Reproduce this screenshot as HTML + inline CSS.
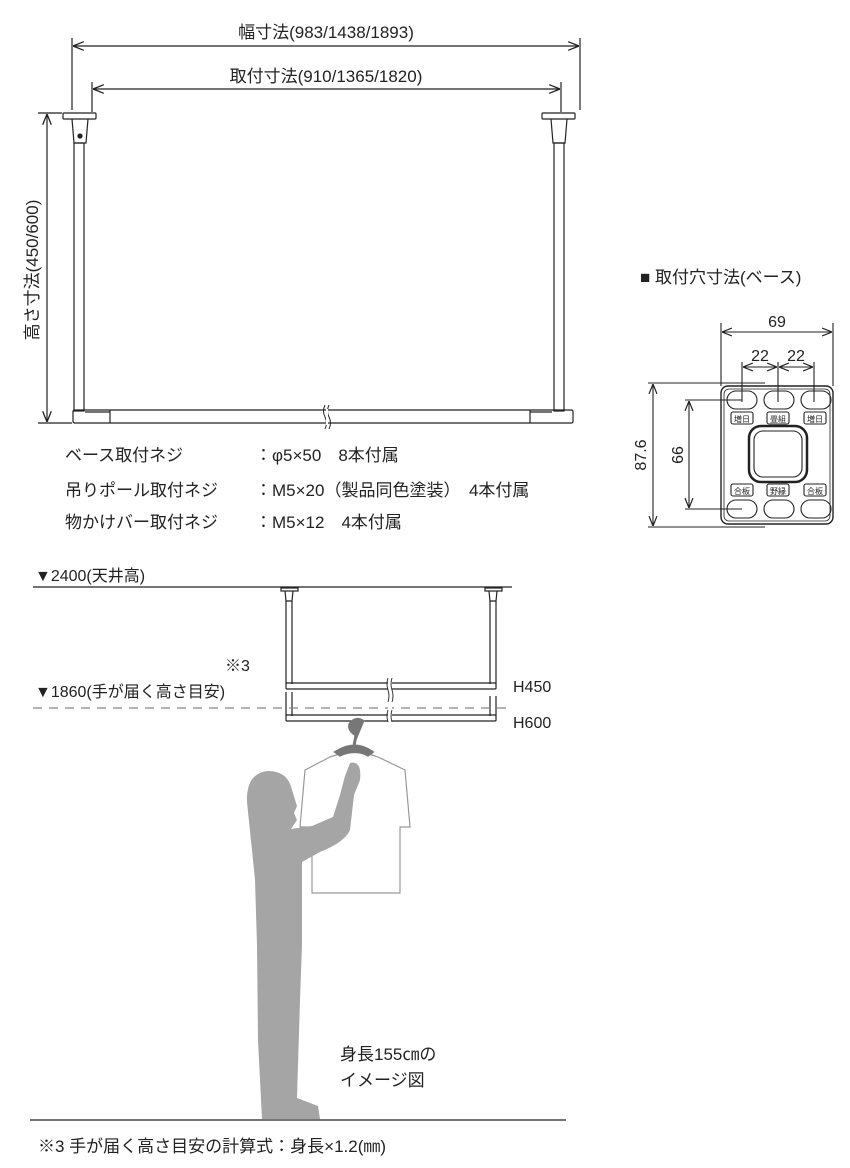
<!DOCTYPE html>
<html><head><meta charset="utf-8"><style>
html,body{margin:0;padding:0;background:#fff}
svg{display:block}
text{font-family:"Liberation Sans","Noto Sans CJK JP",sans-serif;fill:#222}
</style></head><body>
<svg width="850" height="1168" viewBox="0 0 850 1168" xmlns="http://www.w3.org/2000/svg">
<defs>
<marker id="a" viewBox="0 0 10 10" refX="10" refY="5" markerWidth="9" markerHeight="9" orient="auto-start-reverse"><path d="M0,1 L10,5 L0,9" fill="none" stroke="#222" stroke-width="1.2"/></marker>
</defs>
<g stroke="#222" stroke-width="1.2" fill="none">
<line x1="72" y1="38" x2="72" y2="110"/><line x1="580" y1="38" x2="580" y2="110"/>
<line x1="73" y1="46" x2="579" y2="46" marker-start="url(#a)" marker-end="url(#a)"/>
<line x1="92" y1="82" x2="92" y2="112"/><line x1="561" y1="82" x2="561" y2="112"/>
<line x1="93" y1="89" x2="560" y2="89" marker-start="url(#a)" marker-end="url(#a)"/>
<line x1="38" y1="113" x2="62" y2="113"/><line x1="38" y1="423" x2="72" y2="423"/>
<line x1="47" y1="114" x2="47" y2="422" marker-start="url(#a)" marker-end="url(#a)"/>
<rect x="63" y="113" width="33" height="6" rx="1"/><path d="M72,119 L74,143 L86,143 L88,119"/>
<circle cx="80" cy="136" r="2" fill="#222"/>
<rect x="74" y="143" width="10" height="268"/>
<rect x="542" y="113" width="33" height="6" rx="1"/><path d="M551,119 L553,143 L565,143 L567,119"/>
<rect x="554" y="143" width="10" height="268"/>
<rect x="73" y="410" width="500" height="13" rx="1.5"/>
<line x1="85" y1="412" x2="110" y2="412"/><line x1="110" y1="410" x2="110" y2="423"/>
<line x1="530" y1="410" x2="530" y2="423"/><line x1="530" y1="412" x2="552" y2="412"/>
<path d="M325,405 q-3,6 0,12 q3,6 0,12 M329,405 q-3,6 0,12 q3,6 0,12" stroke-width="1"/>
</g>
<rect x="326" y="409" width="2" height="16" fill="#fff"/>
<text x="326" y="38" font-size="17" text-anchor="middle">幅寸法(983/1438/1893)</text>
<text x="326" y="82" font-size="17" text-anchor="middle">取付寸法(910/1365/1820)</text>
<text transform="translate(38,270) rotate(-90)" font-size="17" text-anchor="middle">高さ寸法(450/600)</text>
<g font-size="17">
<text x="65" y="461">ベース取付ネジ</text><text x="255" y="461">：φ5×50　8本付属</text>
<text x="65" y="496">吊りポール取付ネジ</text><text x="255" y="496">：M5×20（製品同色塗装）　4本付属</text>
<text x="65" y="528">物かけバー取付ネジ</text><text x="255" y="528">：M5×12　4本付属</text>
</g>
<text x="640" y="283" font-size="17">■ 取付穴寸法(ベース)</text>
<g stroke="#222" stroke-width="1.1" fill="none">
<line x1="721" y1="323" x2="721" y2="386"/><line x1="833" y1="323" x2="833" y2="386"/>
<line x1="722" y1="332" x2="832" y2="332" marker-start="url(#a)" marker-end="url(#a)"/>
<line x1="742" y1="362" x2="742" y2="402"/><line x1="778" y1="362" x2="778" y2="402"/><line x1="814" y1="362" x2="814" y2="402"/>
<line x1="743" y1="367" x2="777" y2="367" marker-start="url(#a)" marker-end="url(#a)"/>
<line x1="779" y1="367" x2="813" y2="367" marker-start="url(#a)" marker-end="url(#a)"/>
<line x1="648" y1="383" x2="765" y2="383"/><line x1="648" y1="527" x2="765" y2="527"/>
<line x1="653" y1="384" x2="653" y2="526" marker-start="url(#a)" marker-end="url(#a)"/>
<line x1="685" y1="400" x2="742" y2="400"/><line x1="685" y1="509" x2="742" y2="509"/>
<line x1="689" y1="401" x2="689" y2="508" marker-start="url(#a)" marker-end="url(#a)"/>
<rect x="721" y="386" width="112" height="138" rx="7" stroke-width="1.4"/>
<rect x="724" y="389" width="106" height="132" rx="5" stroke-width="0.8"/>
<rect x="727" y="391" width="30" height="18" rx="9"/><rect x="764" y="391" width="30" height="18" rx="9"/><rect x="801" y="391" width="30" height="18" rx="9"/>
<rect x="727" y="500" width="30" height="18" rx="9"/><rect x="764" y="500" width="30" height="18" rx="9"/><rect x="801" y="500" width="30" height="18" rx="9"/>
<rect x="731" y="412" width="22" height="12" rx="2"/><rect x="767" y="412" width="22" height="12" rx="2"/><rect x="804" y="412" width="22" height="12" rx="2"/>
<rect x="731" y="484" width="22" height="12" rx="2"/><rect x="767" y="484" width="22" height="12" rx="2"/><rect x="804" y="484" width="22" height="12" rx="2"/>
<rect x="749" y="426" width="58" height="56" rx="12" stroke-width="2.5"/>
<rect x="754" y="431" width="48" height="46" rx="9"/>
</g>
<text x="777" y="327" font-size="16" text-anchor="middle">69</text>
<text x="760" y="361" font-size="16" text-anchor="middle">22</text>
<text x="796" y="361" font-size="16" text-anchor="middle">22</text>
<text transform="translate(646,455) rotate(-90)" font-size="16" text-anchor="middle">87.6</text>
<text transform="translate(683,455) rotate(-90)" font-size="16" text-anchor="middle">66</text>
<g font-size="8" text-anchor="middle"><text x="742" y="422">増日</text><text x="778" y="422">畳組</text><text x="815" y="422">増日</text><text x="742" y="494">合板</text><text x="778" y="494">野縁</text><text x="815" y="494">合板</text></g>
<text x="35" y="581" font-size="16">▼2400(天井高)</text>
<text x="225" y="671" font-size="16">※3</text>
<text x="35" y="697" font-size="16">▼1860(手が届く高さ目安)</text>
<text x="513" y="692" font-size="16">H450</text>
<text x="513" y="728" font-size="16">H600</text>
<g stroke="#222" stroke-width="1.2" fill="none">
<line x1="33" y1="587" x2="512" y2="587"/>
<rect x="281" y="588" width="17" height="3"/><path d="M285,591 L286,601 L292,601 L293,591"/>
<rect x="485" y="588" width="17" height="3"/><path d="M489,591 L490,601 L496,601 L497,591"/>
<line x1="286" y1="601" x2="286" y2="684"/><line x1="292" y1="601" x2="292" y2="684"/>
<line x1="490" y1="601" x2="490" y2="684"/><line x1="496" y1="601" x2="496" y2="684"/>
<rect x="286" y="683" width="210" height="6" rx="1"/>
<line x1="286" y1="692" x2="286" y2="716"/><line x1="292" y1="692" x2="292" y2="716"/>
<line x1="490" y1="696" x2="490" y2="716"/><line x1="496" y1="696" x2="496" y2="716"/>
<rect x="286" y="715" width="210" height="6" rx="1"/>
<line x1="30" y1="1120" x2="566" y2="1120"/>
</g>
<line x1="33" y1="708" x2="512" y2="708" stroke="#888" stroke-width="1.2" stroke-dasharray="9,7"/>
<rect x="388" y="678" width="4" height="48" fill="#fff"/>
<path d="M388,678 q-2,6 0,12 q2,6 0,12 M392,678 q-2,6 0,12 q2,6 0,12 M388,710 q-2,6 0,12 M392,710 q-2,6 0,12" stroke="#222" fill="none" stroke-width="0.9"/>
<!-- shirt -->
<path d="M330,757 Q355,748 378,757 L405,770 L410,827 L400,827 L400,893 L312,893 L312,827 L300,827 L305,770 Z" fill="#fff" stroke="#999" stroke-width="1.2"/>
<path d="M336,752 Q355,740 372,752 L368,755 Q355,748 340,755 Z M354,746 L356,735 Q348,730 350,724 Q356,716 364,722" fill="#777" stroke="#777" stroke-width="3"/>
<!-- person -->
<path d="M262,1119 L258,1040 L257,945 L255,880 L252,850 Q249,822 247,802 Q246,773 268,771 Q288,771 292,790 L297,806 L294,813 L297,820 L291,829 L312,826 L333,817 L340,795 L345,776 L350,763 Q362,760 360,780 L354,795 L350,830 Q345,842 320,852 L302,862 L302,945 L300,1000 L297,1098 L318,1106 L320,1119 Z" fill="#a5a5a5"/>
<text x="340" y="1060" font-size="17">身長155㎝の</text>
<text x="340" y="1086" font-size="17">イメージ図</text>
<text x="38" y="1152" font-size="17">※3 手が届く高さ目安の計算式：身長×1.2(㎜)</text>
</svg>
</body></html>
